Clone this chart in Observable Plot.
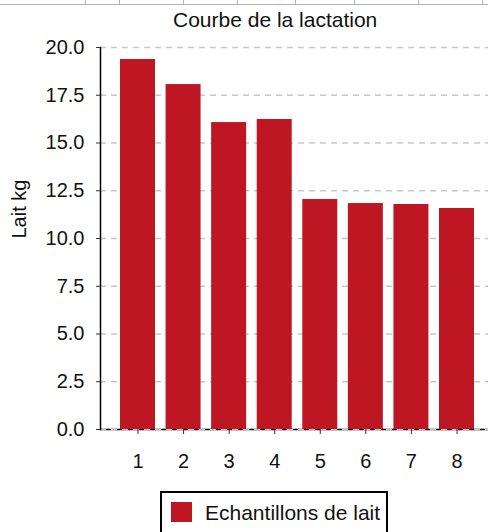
<!DOCTYPE html>
<html>
<head>
<meta charset="utf-8">
<script src="https://cdn.jsdelivr.net/npm/d3@7"></script>
<script src="https://cdn.jsdelivr.net/npm/@observablehq/plot@0.6"></script>
<style>
  html, body { margin: 0; padding: 0; background: #fff; overflow: hidden; }
  #wrap { position: relative; width: 488px; height: 532px; font-family: "Liberation Sans", Arial, sans-serif; color: #111; }
  #wrap svg { position: absolute; left: 0; top: 0; }
  .deco { position: absolute; background: #b4b4b4; }
  #title { position: absolute; left: 173px; top: 9px; font-size: 21px; line-height: 21px; white-space: nowrap; }
  #legend { position: absolute; left: 160px; top: 491px; width: 228px; height: 50px; border: 2px solid #000; box-sizing: border-box; }
  #swatch { position: absolute; left: 171px; top: 502px; width: 21px; height: 20px; background: #be1622; }
  #legtext { position: absolute; left: 205px; top: 502px; font-size: 21px; line-height: 21px; white-space: nowrap; }
</style>
</head>
<body>
<div id="wrap"></div>
<script>
const categories = ["1", "2", "3", "4", "5", "6", "7", "8"];
const values = [19.37, 18.06, 16.07, 16.23, 12.04, 11.83, 11.78, 11.57];
const yTicks = [0, 2.5, 5, 7.5, 10, 12.5, 15, 17.5, 20];
const title = "Courbe de la lactation";
const yLabel = "Lait kg";
const seriesName = "Echantillons de lait";

const data = categories.map((c, i) => ({cat: c, value: values[i]}));
const barColor = "#be1622";

const chart = Plot.plot({
  width: 488,
  height: 485,
  marginTop: 47,
  marginBottom: 56,
  marginLeft: 100,
  marginRight: 0,
  style: {fontFamily: "Liberation Sans, Arial, sans-serif", fontSize: "20px", color: "#111", background: "transparent"},
  x: {domain: categories, range: [120, 474], paddingInner: 0.232, paddingOuter: 0, align: 0, round: false},
  y: {domain: [0, 20]},
  marks: [
    Plot.ruleY([0], {stroke: "#000", strokeWidth: 1.5}),
    Plot.gridY(yTicks, {stroke: "#c8c8c8", strokeOpacity: 1, strokeWidth: 1.3, strokeDasharray: "6,5"}),
    Plot.barY(data, {x: "cat", y: "value", fill: barColor}),
    Plot.frame({anchor: "left", stroke: "#000", strokeWidth: 1.5}),
    Plot.axisY(yTicks, {tickFormat: d3.format(".1f"), tickSize: 4, tickPadding: 12, label: null, fontSize: 20, stroke: "#333", fill: "#111"}),
    Plot.axisX({tickSize: 5, tickPadding: 19, label: null, fontSize: 20, stroke: "#333", fill: "#111"}),
    Plot.text([yLabel], {frameAnchor: "left", dx: -81, rotate: -90, fontSize: 20, fill: "#111"})
  ]
});

const wrap = document.getElementById("wrap");
// top spreadsheet-like strip
const hl = document.createElement("div");
hl.className = "deco";
hl.style.cssText = "left:0;top:4px;width:488px;height:1px;";
wrap.appendChild(hl);
[85, 119, 183, 237, 295, 354, 418, 482].forEach(x => {
  const v = document.createElement("div");
  v.className = "deco";
  v.style.cssText = `left:${x}px;top:0;width:1px;height:5px;`;
  wrap.appendChild(v);
});

wrap.appendChild(chart);

const t = document.createElement("div");
t.id = "title"; t.textContent = title;
wrap.appendChild(t);

const lg = document.createElement("div"); lg.id = "legend"; wrap.appendChild(lg);
const sw = document.createElement("div"); sw.id = "swatch"; wrap.appendChild(sw);
const lt = document.createElement("div"); lt.id = "legtext"; lt.textContent = seriesName; wrap.appendChild(lt);
</script>
</body>
</html>
